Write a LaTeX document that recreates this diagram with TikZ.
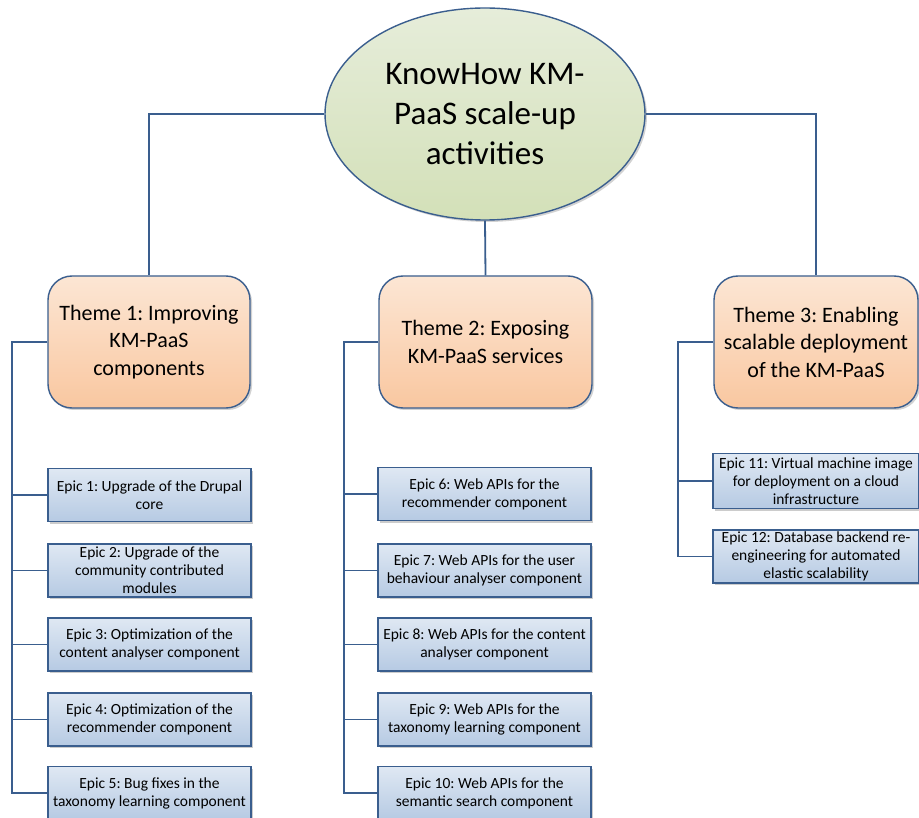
\documentclass[tikz,border=0pt]{standalone}
\usepackage{fontspec}
\setmainfont{Carlito}
\frenchspacing
\usetikzlibrary{shapes.geometric,shadows}
\definecolor{edge}{HTML}{3A5E8E}
\definecolor{gtop}{HTML}{E6EDDA}
\definecolor{gbot}{HTML}{D3E0B8}
\definecolor{ptop}{HTML}{FCE6D4}
\definecolor{pbot}{HTML}{F9C7A0}
\definecolor{btop}{HTML}{DFE8F3}
\definecolor{bbot}{HTML}{B6CAE3}
\tikzset{
  rootnode/.style={ellipse, draw=edge, line width=1.4pt, top color=gtop, bottom color=gbot,
    minimum width=320pt, minimum height=212pt, inner sep=0pt, align=center,
    font=\fontsize{33}{40}\selectfont,
    drop shadow={shadow xshift=2pt, shadow yshift=-2pt, opacity=0.35}},
  themebox/.style={rectangle, rounded corners=24pt, draw=edge, line width=1.4pt,
    top color=ptop, bottom color=pbot, minimum height=132pt, inner sep=0pt, align=center,
    font=\fontsize{22}{27.5}\selectfont,
    drop shadow={shadow xshift=2pt, shadow yshift=-2pt, opacity=0.35}},
  epicbox/.style={rectangle, draw=edge, line width=1.7pt,
    top color=btop, bottom color=bbot, minimum height=53pt, inner sep=0pt, align=center,
    font=\fontsize{15.5}{18}\selectfont,
    drop shadow={shadow xshift=2pt, shadow yshift=-2pt, opacity=0.4}},
  link/.style={draw=edge, line width=1.8pt}
}
\begin{document}
\begin{tikzpicture}[x=1pt,y=-1pt]
\useasboundingbox (0,0) rectangle (919,818);
\clip (0,0) rectangle (919,818);
\fill[white] (0,0) rectangle (919,818);

\coordinate (c1) at (12,342);
\coordinate (c2) at (344,342);
\coordinate (c3) at (678,342);
\coordinate (rc) at (485,114);

\node[rootnode] (root) at (rc) {KnowHow KM-\\PaaS scale-up\\activities};

\node[themebox, minimum width=202pt] (t1) at (149,342) {Theme 1: Improving\\KM-PaaS\\components};
\node[themebox, minimum width=213pt] (t2) at (485.5,342) {Theme 2: Exposing\\KM-PaaS services};
\node[themebox, minimum width=204pt] (t3) at (816,342) {Theme 3: Enabling\\scalable deployment\\of the KM-PaaS};

% column 1
\node[epicbox, minimum width=203pt] (e1) at (149.5,495) {Epic 1: Upgrade of the Drupal\\core};
\node[epicbox, minimum width=203pt] (e2) at (149.5,570.5) {Epic 2: Upgrade of the\\community contributed\\modules};
\node[epicbox, minimum width=203pt] (e3) at (149.5,644.5) {Epic 3: Optimization of the\\content analyser component};
\node[epicbox, minimum width=203pt] (e4) at (149.5,719.5) {Epic 4: Optimization of the\\recommender component};
\node[epicbox, minimum width=203pt] (e5) at (149.5,793) {Epic 5: Bug fixes in the\\taxonomy learning component};

% column 2
\node[epicbox, minimum width=213pt] (e6) at (484.5,494) {Epic 6: Web APIs for the\\recommender component};
\node[epicbox, minimum width=213pt] (e7) at (484.5,570.5) {Epic 7: Web APIs for the user\\behaviour analyser component};
\node[epicbox, minimum width=213pt] (e8) at (484.5,644.5) {Epic 8: Web APIs for the content\\analyser component};
\node[epicbox, minimum width=213pt] (e9) at (484.5,719.5) {Epic 9: Web APIs for the\\taxonomy learning component};
\node[epicbox, minimum width=213pt] (e10) at (484.5,793) {Epic 10: Web APIs for the\\semantic search component};

% column 3
\node[epicbox, minimum width=206pt, minimum height=55pt] (e11) at (816,481) {Epic 11: Virtual machine image\\for deployment on a cloud\\infrastructure};
\node[epicbox, minimum width=206pt] (e12) at (816,556.5) {Epic 12: Database backend re-\\engineering for automated\\elastic scalability};

\draw[link] (root.west) -| (t1.north);
\draw[link] (root.east) -| (t3.north);
\draw[link] (root.south) -- (t2.north);

\draw[link] (t1.west) -- (c1) |- (e5.west);
\foreach \e in {e1,e2,e3,e4} \draw[link] (c1 |- \e.west) -- (\e.west);
\draw[link] (t2.west) -- (c2) |- (e10.west);
\foreach \e in {e6,e7,e8,e9} \draw[link] (c2 |- \e.west) -- (\e.west);
\draw[link] (t3.west) -- (c3) |- (e12.west);
\draw[link] (c3 |- e11.west) -- (e11.west);
\end{tikzpicture}
\end{document}
